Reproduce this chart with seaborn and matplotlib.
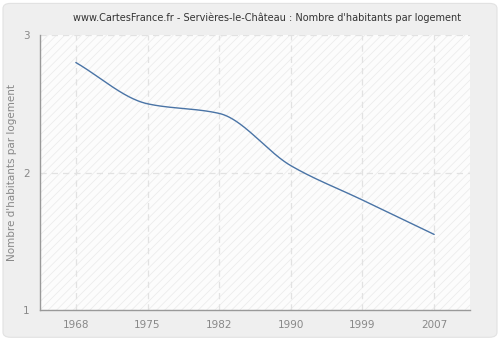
import numpy as np
import pandas as pd
import matplotlib
matplotlib.use("Agg")
import matplotlib.pyplot as plt
import seaborn as sns
from matplotlib.patches import FancyBboxPatch, Rectangle

years = [1968, 1975, 1982, 1990, 1999, 2007]
values = [2.80, 2.50, 2.43, 2.05, 1.80, 1.55]
xtick_labels = ["1968", "1975", "1982", "1990", "1999", "2007"]
ytick_values = [1, 2, 3]
title = "www.CartesFrance.fr - Servières-le-Château : Nombre d'habitants par logement"
ylabel = "Nombre d'habitants par logement"


def pchip(x, y, xs):
    x = np.asarray(x, float); y = np.asarray(y, float)
    h = np.diff(x); d = np.diff(y) / h
    m = np.zeros_like(y)
    for k in range(1, len(x) - 1):
        if d[k - 1] * d[k] > 0:
            w1 = 2 * h[k] + h[k - 1]; w2 = h[k] + 2 * h[k - 1]
            m[k] = (w1 + w2) / (w1 / d[k - 1] + w2 / d[k])
    m[0] = d[0]; m[-1] = d[-1]
    out = np.empty_like(xs)
    for i, xv in enumerate(xs):
        k = min(np.searchsorted(x, xv, side="right") - 1, len(x) - 2)
        t = (xv - x[k]) / h[k]
        h00 = 2*t**3 - 3*t**2 + 1; h10 = t**3 - 2*t**2 + t
        h01 = -2*t**3 + 3*t**2; h11 = t**3 - t**2
        out[i] = h00*y[k] + h10*h[k]*m[k] + h01*y[k+1] + h11*h[k]*m[k+1]
    return out


pos = np.arange(len(years))
xs = np.linspace(0, len(years) - 1, 400)
smooth = pd.DataFrame({"pos": xs, "value": pchip(pos, values, xs)})

sns.set_style("white")
plt.rcParams["font.family"] = ["DejaVu Sans"]
plt.rcParams["hatch.color"] = "#ececec"
plt.rcParams["hatch.linewidth"] = 0.6

fig = plt.figure(figsize=(5, 3.4), dpi=100)
fig.patch.set_facecolor("white")
fig.patches.append(FancyBboxPatch((0.006, 0.008), 0.988, 0.982, boxstyle="round,pad=0,rounding_size=0.015",
                                  transform=fig.transFigure, facecolor="#efefef", edgecolor="#e2e2e2",
                                  linewidth=0.8, zorder=-10))

ax = fig.add_axes([0.08, 0.088, 0.86, 0.809])
ax.set_facecolor("#fcfcfc")
ax.add_patch(Rectangle((0, 0), 1, 1, transform=ax.transAxes, facecolor="none",
                       edgecolor="#ececec", hatch="////", linewidth=0, zorder=0))

sns.lineplot(data=smooth, x="pos", y="value", ax=ax, color="#4a74a6", linewidth=1.0, zorder=3)

ax.set_xlim(-0.5, len(years) - 0.5)
ax.set_ylim(1, 3)
ax.set_xticks(pos)
ax.set_xticklabels(xtick_labels)
ax.set_yticks(ytick_values)
ax.set_yticklabels([str(v) for v in ytick_values])
ax.grid(True, color="#e2e2e2", linestyle=(0, (5, 4)), linewidth=0.9)
ax.set_axisbelow(True)
for s in ["top", "right"]:
    ax.spines[s].set_visible(False)
for s in ["left", "bottom"]:
    ax.spines[s].set_color("#999999")
    ax.spines[s].set_linewidth(1.0)
ax.tick_params(axis="both", colors="#999999", labelcolor="#888888", labelsize=7.5,
               length=4, width=1, direction="out")
ax.set_xlabel("")
ax.set_ylabel(ylabel, color="#888888", fontsize=7.5)
fig.text(0.534, 0.947, title, fontsize=7, color="#333333", ha="center", va="center")

fig.savefig("out.png", dpi=100, facecolor=fig.get_facecolor())
